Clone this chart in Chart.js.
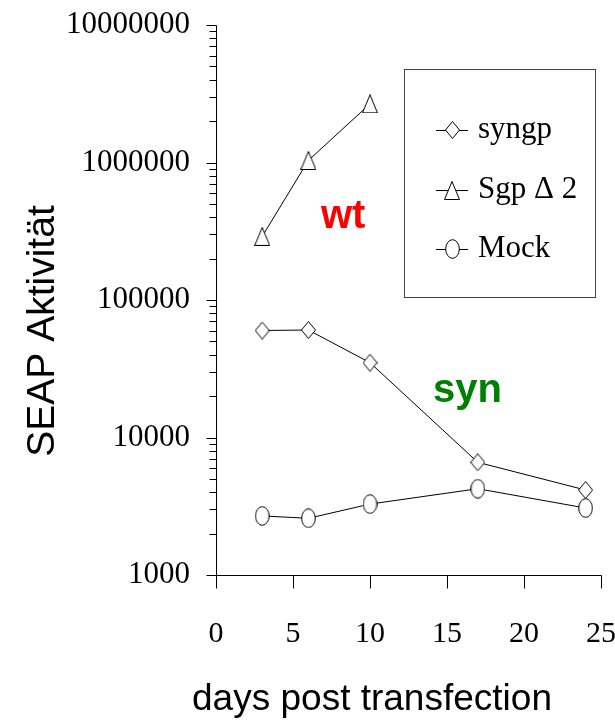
<!DOCTYPE html>
<html><head><meta charset="utf-8">
<script src="https://cdn.jsdelivr.net/npm/chart.js@4"></script>
<style>html,body{margin:0;padding:0;background:#fff}canvas{display:block}</style>
</head><body><canvas id="c" width="615" height="720"></canvas>
<script>
const days = [3, 6, 10, 17, 24];
const syngpValues = [60000, 60500, 35000, 6600, 4150];
const sgpDays = [3, 6, 10];
const sgpValues = [290000, 1035000, 2670000];
const mockValues = [2690, 2585, 3280, 4240, 3070];
const yTickValues = [1000, 10000, 100000, 1000000, 10000000];
const xTickValues = [0, 5, 10, 15, 20, 25];
const seriesNames = ['syngp', 'Sgp \u0394 2', 'Mock'];

function mk(w, h, draw) {
  const c = document.createElement('canvas'); c.width = w; c.height = h;
  const g = c.getContext('2d'); g.fillStyle = '#fff'; g.strokeStyle = '#000'; g.lineWidth = 1;
  g.beginPath(); draw(g); g.closePath(); g.fill(); g.stroke(); return c;
}
const diamond = mk(15, 18, g => { g.moveTo(7.5, 0.5); g.lineTo(14.5, 9); g.lineTo(7.5, 17.5); g.lineTo(0.5, 9); });
const tri = mk(16, 19, g => { g.moveTo(8, 0.5); g.lineTo(15.5, 18.5); g.lineTo(0.5, 18.5); });
const ell = mk(15, 20, g => { g.ellipse(7.5, 10, 6.8, 9.3, 0, 0, Math.PI * 2); });

const pts = (xs, ys) => xs.map((x, i) => ({x, y: ys[i]}));
const ds = (label, data, img) => ({label, data, showLine: true, borderColor: '#000', borderWidth: 1,
  pointStyle: img, pointRadius: 7, tension: 0, clip: false});

const serif = '"Liberation Serif", "Times New Roman", serif';
const sans = '"Liberation Sans", Arial, sans-serif';

const axesPlugin = {
  id: 'axes',
  beforeDatasetsDraw(chart) {
    const {ctx, scales: {x, y}} = chart;
    ctx.save(); ctx.strokeStyle = '#000'; ctx.lineWidth = 1;
    const ax = Math.round(x.getPixelForValue(0)) + 0.5;
    const ay = Math.round(y.getPixelForValue(1000)) + 0.5;
    ctx.beginPath();
    ctx.moveTo(ax, Math.round(y.getPixelForValue(1e7)) + 0.5); ctx.lineTo(ax, ay);
    ctx.moveTo(ax, ay); ctx.lineTo(Math.round(x.getPixelForValue(25)) + 0.5, ay);
    for (let e = 3; e <= 7; e++) {
      for (let s = 1; s <= 9; s++) {
        const v = s * Math.pow(10, e);
        if (v > 1e7) break;
        const py = Math.round(y.getPixelForValue(v)) + 0.5;
        ctx.moveTo(ax, py); ctx.lineTo(ax - (s === 1 ? 10 : 7), py);
      }
    }
    xTickValues.forEach(v => {
      const px = Math.round(x.getPixelForValue(v)) + 0.5;
      ctx.moveTo(px, ay); ctx.lineTo(px, ay + 13);
    });
    ctx.stroke(); ctx.restore();
  },
  afterDraw(chart) {
    const {ctx} = chart;
    ctx.save();
    // legend
    ctx.strokeStyle = '#444'; ctx.lineWidth = 1;
    ctx.strokeRect(404.5, 69.5, 191, 228);
    const items = [[seriesNames[0], diamond, 130], [seriesNames[1], tri, 190], [seriesNames[2], ell, 249]];
    ctx.font = '31px ' + serif; ctx.fillStyle = '#000'; ctx.textBaseline = 'alphabetic'; ctx.textAlign = 'left';
    items.forEach(([name, img, yy]) => {
      ctx.strokeStyle = '#000';
      ctx.beginPath(); ctx.moveTo(436, yy + 0.5); ctx.lineTo(468, yy + 0.5); ctx.stroke();
      ctx.drawImage(img, Math.round(452 - img.width / 2), Math.round(yy - img.height / 2));
      ctx.fillText(name, 478, yy + 8);
    });
    // annotations
    ctx.font = 'bold 40px ' + sans;
    ctx.fillStyle = '#ff0000'; ctx.fillText('wt', 321, 228);
    ctx.fillStyle = '#008000'; ctx.fillText('syn', 433, 402);
    // axis titles
    ctx.fillStyle = '#000';
    ctx.font = '37px ' + sans; ctx.textAlign = 'center';
    ctx.fillText('days post transfection', 372, 710);
    ctx.translate(54, 331); ctx.rotate(-Math.PI / 2);
    ctx.font = '39px ' + sans;
    ctx.fillText('SEAP Aktivit\u00e4t', 0, 0);
    ctx.restore();
  }
};

new Chart(document.getElementById('c'), {
  type: 'scatter',
  data: { datasets: [
    ds(seriesNames[0], pts(days, syngpValues), diamond),
    ds(seriesNames[1], pts(sgpDays, sgpValues), tri),
    ds(seriesNames[2], pts(days, mockValues), ell)
  ]},
  options: {
    responsive: false, animation: false, devicePixelRatio: 1,
    layout: { padding: { top: 25, right: 14, left: 0, bottom: 0 } },
    plugins: { legend: { display: false }, tooltip: { enabled: false } },
    events: [],
    scales: {
      x: {
        type: 'linear', min: 0, max: 25,
        grid: { display: false, drawTicks: false }, border: { display: false },
        afterBuildTicks: s => { s.ticks = xTickValues.map(v => ({value: v})); },
        afterFit: s => { s.height = 145; s.paddingLeft = 0; s.paddingRight = 0; },
        ticks: { autoSkip: false, maxRotation: 0, padding: 41, color: '#000', font: { family: serif, size: 30 },
          callback: v => String(v) }
      },
      y: {
        type: 'logarithmic', min: 1000, max: 10000000,
        grid: { display: false, drawTicks: false }, border: { display: false },
        afterBuildTicks: s => { s.ticks = yTickValues.map(v => ({value: v})); },
        afterFit: s => { s.width = 216; s.paddingTop = 0; s.paddingBottom = 0; },
        ticks: { autoSkip: false, padding: 26, color: '#000', font: { family: serif, size: 31 },
          callback: v => String(v) }
      }
    }
  },
  plugins: [axesPlugin]
});
</script></body></html>
